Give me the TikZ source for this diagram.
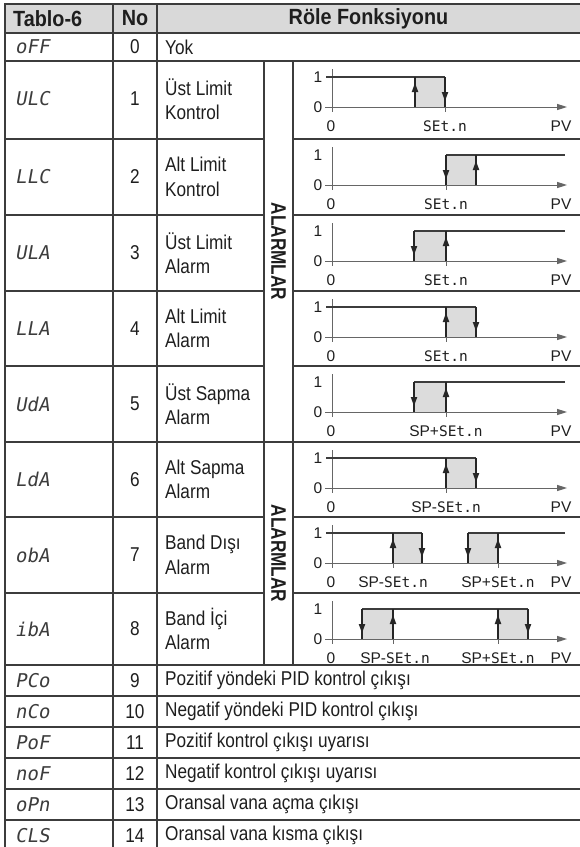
\documentclass[tikz,border=0pt]{standalone}
\usepackage{fontspec}
\setmainfont[FakeStretch=0.86]{Liberation Sans}
\newfontfamily\hdrfont[FakeStretch=0.9]{Liberation Sans}
\newfontfamily\alfont[FakeStretch=0.82]{Liberation Sans}
\newfontfamily\lblfont{Liberation Sans}
\newfontfamily\segfont[FakeSlant=0.18]{DejaVu Sans Mono}
\newfontfamily\segup{DejaVu Sans Mono}

\definecolor{hdrgray}{HTML}{D9D9D9}
\definecolor{boxgray}{HTML}{DCDCDC}
\definecolor{linegray}{HTML}{3C3C3C}
\definecolor{axisgray}{HTML}{666666}
\definecolor{txtgray}{HTML}{1E1E1E}

\newcommand{\setn}{{\segup\fontsize{14.5}{16}\selectfont SEt.n}}
\newcommand{\upflag}[1]{\draw[flag] (#1,46) -- (#1,16); \fill[head] (#1,22) -- ++(-3.3,9) -- ++(6.6,0) -- cycle;}
\newcommand{\dnflag}[1]{\draw[flag] (#1,16) -- (#1,46); \fill[head] (#1,40) -- ++(-3.3,-9) -- ++(6.6,0) -- cycle;}

\tikzset{
	tabline/.style={draw=linegray, line width=1.3pt},
	hdr/.style={font=\hdrfont\bfseries\fontsize{22}{24}\selectfont, text=txtgray, inner sep=0pt},
	alarm/.style={font=\alfont\bfseries\fontsize{21}{23}\selectfont, text=txtgray, inner sep=0pt, rotate=-90},
	body/.style={font=\fontsize{20}{24.5}\selectfont, text=txtgray, align=left, anchor=west, inner sep=0pt},
	code/.style={font=\segfont\fontsize{19}{21}\selectfont, text=linegray, anchor=west, inner sep=0pt},
	num/.style={font=\fontsize{20}{22}\selectfont, text=txtgray, inner sep=0pt},
	lbl/.style={font=\lblfont\fontsize{15.5}{17}\selectfont, text=txtgray, inner sep=0pt},
	axisln/.style={draw=axisgray, line width=1pt},
	lvl/.style={draw=linegray, line width=1.2pt},
	hyst/.style={fill=boxgray},
	flag/.style={draw=black!85, line width=1.3pt},
	head/.style={fill=black!85},
}

\begin{document}
\begin{tikzpicture}[x=1pt, y=-1pt]
	\useasboundingbox (0,0) rectangle (580,847);
	\clip (0,0) rectangle (580,847);

	% Table frame and header:
	\fill[hdrgray] (5,4) rectangle (581,33);
	\draw[tabline] (5,4) rectangle (581,851);
	\draw[tabline] (113,4) -- (113,851);
	\draw[tabline] (157,4) -- (157,851);
	\draw[tabline] (264,61) -- (264,665);
	\draw[tabline] (293,61) -- (293,665);
	\foreach \y in {33,61,442,665,696,727,758,789,820}
		\draw[tabline] (5,\y) -- (581,\y);
	\foreach \y in {139,215,291,366,517,593}
		\draw[tabline] (5,\y) -- (264,\y) (293,\y) -- (581,\y);

	\node[hdr, anchor=west] (tab) at (13,18.5) {Tablo-6};
	\node[hdr] (no) at (135,18.5) {No};
	\node[hdr] (fn) at (368.5,18.5) {Röle Fonksiyonu};

	% Rows:
	\node[code] (c0) at (15,47) {oFF};
	\node[num] (n0) at (135,47) {0};
	\node[body] (d0) at (165,47) {Yok};
	\foreach \c/\n/\d/\y in {ULC/1/{Üst Limit\\Kontrol}/99, LLC/2/{Alt Limit\\Kontrol}/177,
		ULA/3/{Üst Limit\\Alarm}/253, LLA/4/{Alt Limit\\Alarm}/328.5,
		UdA/5/{Üst Sapma\\Alarm}/404, LdA/6/{Alt Sapma\\Alarm}/479.5,
		obA/7/{Band Dışı\\Alarm}/555, ibA/8/{Band İçi\\Alarm}/629,
		PCo/9/{Pozitif yöndeki PID kontrol çıkışı}/680.5,
		nCo/10/{Negatif yöndeki PID kontrol çıkışı}/711.5,
		PoF/11/{Pozitif kontrol çıkışı uyarısı}/742.5,
		noF/12/{Negatif kontrol çıkışı uyarısı}/773.5,
		oPn/13/{Oransal vana açma çıkışı}/804.5,
		CLS/14/{Oransal vana kısma çıkışı}/835.5}{
		\node[code] (c\n) at (15,\y) {\c};
		\node[num] (n\n) at (135,\y) {\n};
		\node[body] (d\n) at (165,\y) {\d};
	}

	\node[alarm] (al1) at (278.5,251.5) {ALARMLAR};
	\node[alarm] (al2) at (278.5,553.5) {ALARMLAR};

	% Axes of the graphs:
	\foreach \t [count=\i] in {61,139,215,291,366,442,517,593}{
		\begin{scope}[shift={(0,\t)}]
			\draw[axisln] (332,8) -- (332,51);
			\draw[axisln] (325,46) -- (559,46);
			\fill[axisgray] (567,46) -- ++(-10,-3.2) -- ++(0,6.4) -- cycle;
			\node[lbl] (one\i) at (318,16) {1};
			\node[lbl] (zero\i) at (318,46) {0};
			\node[lbl] (orig\i) at (331,65) {0};
			\node[lbl] (pv\i) at (561,65) {PV};
		\end{scope}
	}

	% ULC
	\begin{scope}[shift={(0,61)}]
		\fill[hyst] (415,16) rectangle (445,46);
		\draw[lvl] (326,16) -- (445,16);
		\draw[axisln] (445,46) -- (445,51);
		\upflag{415} \dnflag{445}
		\node[lbl] (s1) at (445,65) {\setn};
	\end{scope}
	% LLC
	\begin{scope}[shift={(0,139)}]
		\fill[hyst] (446,16) rectangle (476,46);
		\draw[lvl] (446,16) -- (565,16);
		\draw[axisln] (446,46) -- (446,51);
		\dnflag{446} \upflag{476}
		\node[lbl] (s2) at (446,65) {\setn};
	\end{scope}
	% ULA
	\begin{scope}[shift={(0,215)}]
		\fill[hyst] (414,16) rectangle (446,46);
		\draw[lvl] (414,16) -- (565,16);
		\draw[axisln] (446,46) -- (446,51);
		\dnflag{414} \upflag{446}
		\node[lbl] (s3) at (446,65) {\setn};
	\end{scope}
	% LLA
	\begin{scope}[shift={(0,291)}]
		\fill[hyst] (446,16) rectangle (476,46);
		\draw[lvl] (326,16) -- (476,16);
		\draw[axisln] (446,46) -- (446,51);
		\upflag{446} \dnflag{476}
		\node[lbl] (s4) at (446,65) {\setn};
	\end{scope}
	% UdA
	\begin{scope}[shift={(0,366)}]
		\fill[hyst] (414,16) rectangle (446,46);
		\draw[lvl] (414,16) -- (565,16);
		\draw[axisln] (446,46) -- (446,51);
		\dnflag{414} \upflag{446}
		\node[lbl] (s5) at (446,65) {SP+\setn};
	\end{scope}
	% LdA
	\begin{scope}[shift={(0,442)}]
		\fill[hyst] (446,16) rectangle (476,46);
		\draw[lvl] (326,16) -- (476,16);
		\draw[axisln] (446,46) -- (446,51);
		\upflag{446} \dnflag{476}
		\node[lbl] (s6) at (446,65) {SP-\setn};
	\end{scope}
	% obA
	\begin{scope}[shift={(0,517)}]
		\fill[hyst] (393,16) rectangle (422,46);
		\fill[hyst] (468,16) rectangle (498,46);
		\draw[lvl] (326,16) -- (422,16);
		\draw[lvl] (468,16) -- (565,16);
		\draw[axisln] (393,46) -- (393,51);
		\draw[axisln] (498,46) -- (498,51);
		\upflag{393} \dnflag{422}
		\dnflag{468} \upflag{498}
		\node[lbl] (s7a) at (393,65) {SP-\setn};
		\node[lbl] (s7b) at (498,65) {SP+\setn};
	\end{scope}
	% ibA
	\begin{scope}[shift={(0,593)}]
		\fill[hyst] (362,16) rectangle (393,46);
		\fill[hyst] (498,16) rectangle (528,46);
		\draw[lvl] (362,16) -- (528,16);
		\draw[axisln] (393,46) -- (393,51);
		\draw[axisln] (498,46) -- (498,51);
		\dnflag{362} \upflag{393}
		\upflag{498} \dnflag{528}
		\node[lbl] (s8a) at (395,65) {SP-\setn};
		\node[lbl] (s8b) at (498,65) {SP+\setn};
	\end{scope}
\end{tikzpicture}
\end{document}
